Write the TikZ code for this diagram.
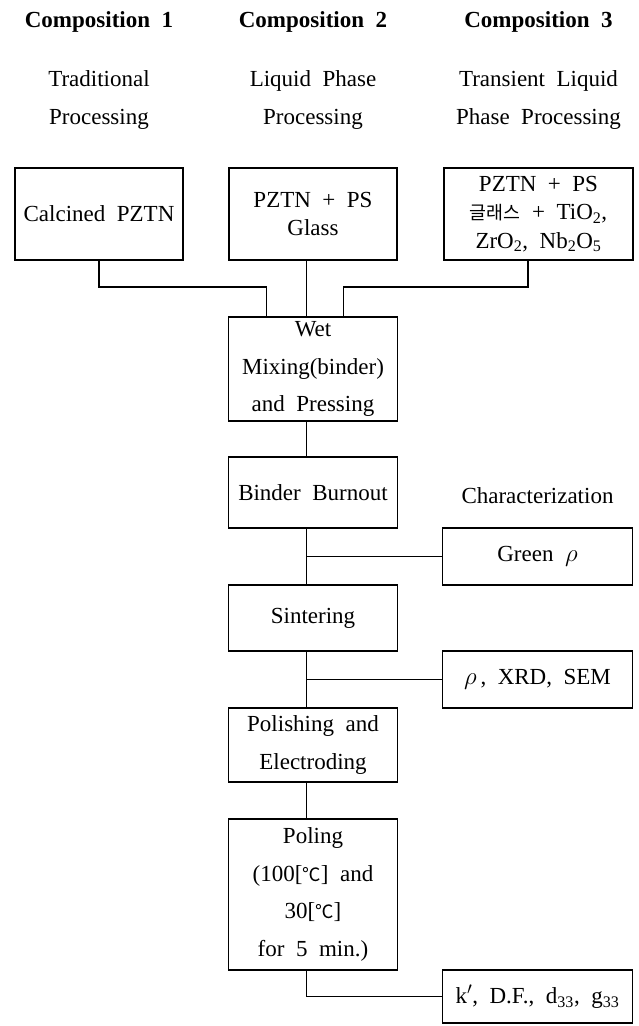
\documentclass[tikz,border=0pt]{standalone}
\usepackage{fontspec}
\setmainfont[WordSpace=2]{Liberation Serif}
\newfontfamily\kofont[Scale=0.8]{Noto Sans CJK KR}
\usetikzlibrary{positioning}

\newcommand{\flowsize}{\fontsize{23}{37.5}\selectfont}
\newcommand{\tightsize}{\fontsize{23}{28.5}\selectfont}

\begin{document}
\begin{tikzpicture}[
    x=1pt, y=-1pt,
    font=\flowsize,
    box/.style={draw, line width=1.3pt, outer sep=0pt, align=center, inner xsep=2pt, inner ysep=2pt},
    topbox/.style={box, font=\tightsize, minimum width=168pt, minimum height=92pt},
    proc/.style={box, minimum width=169pt},
    meas/.style={box, anchor=north west, minimum width=190pt, minimum height=57pt},
    head/.style={align=center, inner sep=0pt},
    link/.style={line width=1.3pt}
  ]
  \useasboundingbox (0,0) rectangle (638,1026);

  % column headers
  \node[head, anchor=base, font=\flowsize\bfseries] (comp1) at (99,27) {Composition 1};
  \node[head, anchor=base, font=\flowsize\bfseries] (comp2) at (313,27) {Composition 2};
  \node[head, anchor=base, font=\flowsize\bfseries] (comp3) at (538.5,27) {Composition 3};
  \node[head] (route1) at (99,100) {Traditional\\Processing};
  \node[head] (route2) at (313,100) {Liquid Phase\\Processing};
  \node[head] (route3) at (538.5,100) {Transient Liquid\\Phase Processing};

  % starting powders
  \node[topbox, anchor=north west] (calc) at (15,168) {Calcined PZTN};
  \node[topbox, right=46pt of calc] (lp) {PZTN + PS\\Glass};
  \node[topbox, right=47pt of lp, minimum width=189pt] (tlp) {PZTN + PS\\{\kofont 글래스} + TiO\textsubscript{2},\\ZrO\textsubscript{2}, Nb\textsubscript{2}O\textsubscript{5}};

  % process steps
  \node[proc, below=57pt of lp, minimum height=104pt] (wet) {Wet\\Mixing(binder)\\and Pressing};
  \node[proc, below=36pt of wet, minimum height=71pt] (binder) {Binder Burnout};
  \node[proc, below=57pt of binder, minimum height=66pt] (sinter) {Sintering};
  \node[proc, below=57pt of sinter, minimum height=74pt] (polish) {Polishing and\\Electroding};
  \node[proc, below=37pt of polish, minimum height=151pt] (poling) {Poling\\(100[{\kofont ℃}] and\\30[{\kofont ℃}]\\for 5 min.)};

  % characterization
  \node[meas] (green) at ([xshift=45pt]binder.south east) {Green $\rho$};
  \node[meas] (rho) at ([xshift=45pt]sinter.south east) {$\rho$\,, XRD, SEM};
  \node[meas, minimum height=53pt] (kdf) at ([xshift=45pt]poling.south east) {k$'$, D.F., d\textsubscript{33}, g\textsubscript{33}};
  \node[anchor=base] (charhead) at ([yshift=25pt]green.north) {Characterization};

  \coordinate (trunk) at ([xshift=-6.5pt]wet.north);
  \draw[link] (calc.south) -- ++(0,27) -| ([xshift=-46.5pt]wet.north);
  \draw[link] (lp.south -| trunk) -- (wet.north -| trunk);
  \draw[link] ([xshift=-10.5pt]tlp.south) -- ++(0,27) -| ([xshift=30.5pt]wet.north);
  \draw[link] (wet.south -| trunk) -- (binder.north -| trunk);
  \draw[link] (binder.south -| trunk) -- (sinter.north -| trunk);
  \draw[link] (green.west) -- (green.west -| trunk);
  \draw[link] (sinter.south -| trunk) -- (polish.north -| trunk);
  \draw[link] (rho.west) -- (rho.west -| trunk);
  \draw[link] (polish.south -| trunk) -- (poling.north -| trunk);
  \draw[link] (poling.south -| trunk) |- (kdf.west);
\end{tikzpicture}
\end{document}
